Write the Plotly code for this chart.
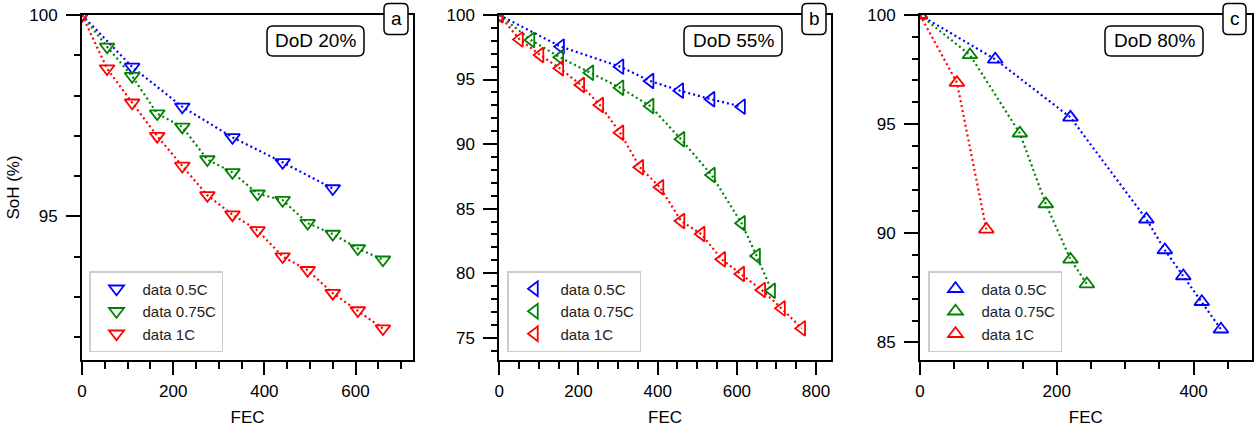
import plotly.graph_objects as go

# ---------------- data ----------------
rates = ["0.5C", "0.75C", "1C"]
colors = ["#0000ff", "#008000", "#ff0000"]

# Panel a : DoD 20 %
a_x_05 = [0, 110, 220, 330, 440, 550]
a_y_05 = [100, 98.71, 97.72, 96.96, 96.34, 95.69]
a_x_075 = [0, 55, 110, 165, 220, 275, 330, 385, 440, 495, 550, 605, 660]
a_y_075 = [100, 99.21, 98.48, 97.55, 97.22, 96.41, 96.09, 95.56, 95.40, 94.83, 94.56, 94.20, 93.92]
a_x_1 = [0, 55, 110, 165, 220, 275, 330, 385, 440, 495, 550, 605, 660]
a_y_1 = [100, 98.67, 97.82, 96.99, 96.25, 95.52, 95.04, 94.65, 94.00, 93.66, 93.09, 92.66, 92.21]

# Panel b : DoD 55 %
b_x_05 = [0, 155, 305, 381, 456, 535, 612]
b_y_05 = [100, 97.55, 96.00, 94.89, 94.14, 93.47, 92.90]
b_x_075 = [0, 80, 153, 229, 305, 381, 459, 536, 612, 650, 688]
b_y_075 = [100, 98.06, 96.72, 95.53, 94.37, 92.95, 90.37, 87.60, 83.86, 81.33, 78.64]
b_x_1 = [0, 51, 103, 153, 206, 254, 305, 355, 406, 459, 510, 562, 610, 663, 713, 764]
b_y_1 = [100, 98.11, 96.90, 95.87, 94.58, 93.03, 90.88, 88.20, 86.65, 84.04, 83.03, 81.07, 79.93, 78.69, 77.27, 75.72]

# Panel c : DoD 80 %
c_x_05 = [0, 110, 220, 331, 358, 385, 412, 440]
c_y_05 = [100, 97.97, 95.31, 90.64, 89.23, 88.04, 86.86, 85.60]
c_x_075 = [0, 73, 146, 184, 220, 244]
c_y_075 = [100, 98.17, 94.58, 91.34, 88.80, 87.67]
c_x_1 = [0, 54, 97]
c_y_1 = [100, 96.90, 90.18]

panel_titles = ["DoD 20%", "DoD 55%", "DoD 80%"]
panel_letters = ["a", "b", "c"]
x_ticks = [[0, 200, 400, 600], [0, 200, 400, 600, 800], [0, 200, 400]]
y_ticks = [[95, 100], [75, 80, 85, 90, 95, 100], [85, 90, 95, 100]]
x_ranges = [[0, 726], [0, 837], [0, 485]]
y_ranges = [[91.43, 100], [73.27, 100], [84.19, 100]]
symbols = ["triangle-down-open", "triangle-left-open", "triangle-up-open"]

panels = [
    [(a_x_05, a_y_05), (a_x_075, a_y_075), (a_x_1, a_y_1)],
    [(b_x_05, b_y_05), (b_x_075, b_y_075), (b_x_1, b_y_1)],
    [(c_x_05, c_y_05), (c_x_075, c_y_075), (c_x_1, c_y_1)],
]

# ---------------- layout geometry (pixels) ----------------
W, H = 1257, 434
FONT = "Liberation Sans, Arial, Helvetica, sans-serif"
x_dom_px = [(82, 413), (499.3, 830.7), (920, 1251.7)]
y_top_px, y_bot_px = 15, 360
legend_left_px = [89, 507, 928]
legend_bottom_px = 352
dod_box_px = [(267, 364), (684, 782), (1105, 1203)]
dod_box_y = (26, 56)
let_box_px = [(384, 408), (802, 826), (1223, 1246)]
let_box_y = (3.5, 34.5)


def px_x(v):
    return v / W


def px_y(v):
    return 1 - v / H


def rounded_path(x0, y0, x1, y1, r):
    pts = [
        ("M", [(x0 + r, y0)]),
        ("L", [(x1 - r, y0)]),
        ("Q", [(x1, y0), (x1, y0 + r)]),
        ("L", [(x1, y1 - r)]),
        ("Q", [(x1, y1), (x1 - r, y1)]),
        ("L", [(x0 + r, y1)]),
        ("Q", [(x0, y1), (x0, y1 - r)]),
        ("L", [(x0, y0 + r)]),
        ("Q", [(x0, y0), (x0 + r, y0)]),
    ]
    s = ""
    for cmd, ps in pts:
        s += cmd + " " + " ".join(f"{px_x(a):.6f},{px_y(b):.6f}" for a, b in ps) + " "
    return s + "Z"


fig = go.Figure()

for p, series in enumerate(panels):
    xa = "x" if p == 0 else f"x{p+1}"
    ya = "y" if p == 0 else f"y{p+1}"
    leg = "legend" if p == 0 else f"legend{p+1}"
    for (xs, ys), rate, col in zip(series, rates, colors):
        fig.add_trace(go.Scatter(
            x=xs, y=ys, mode="lines", xaxis=xa, yaxis=ya,
            line=dict(color=col, width=2.2, dash="2px,3px"),
            showlegend=False, hoverinfo="skip"))
        fig.add_trace(go.Scatter(
            x=xs, y=ys, mode="markers", xaxis=xa, yaxis=ya,
            name="data " + rate, legend=leg,
            marker=dict(symbol=symbols[p], size=13, color=col,
                        line=dict(color=col, width=1.8)),
            cliponaxis=True))

layout = dict(
    width=W, height=H,
    margin=dict(l=0, r=0, t=0, b=0),
    paper_bgcolor="white", plot_bgcolor="white",
    font=dict(family=FONT, color="black"),
    showlegend=True,
)

for p in range(3):
    sx = "" if p == 0 else str(p + 1)
    x0, x1 = x_dom_px[p]
    layout["xaxis" + sx] = dict(
        domain=[px_x(x0), px_x(x1)], anchor="y" + sx, range=x_ranges[p],
        tickvals=x_ticks[p], showline=True, linecolor="black", linewidth=2,
        mirror=True, ticks="outside", ticklen=13, tickwidth=2, tickcolor="black",
        showgrid=False, zeroline=False, automargin=False, ticklabelstandoff=2,
        tickfont=dict(size=17, family=FONT, color="black"),
        minor=dict(ticks="outside", ticklen=6.5, tickwidth=2, tickcolor="black",
                   dtick=50, showgrid=False),
        title=dict(text="FEC", font=dict(size=17, family=FONT, color="black"), standoff=11),
    )
    layout["yaxis" + sx] = dict(
        domain=[px_y(y_bot_px), px_y(y_top_px)], anchor="x" + sx, range=y_ranges[p],
        tickvals=y_ticks[p], showline=True, linecolor="black", linewidth=2,
        mirror=True, ticks="outside", ticklen=14, tickwidth=2, tickcolor="black",
        showgrid=False, zeroline=False, automargin=False, ticklabelstandoff=5,
        tickfont=dict(size=17, family=FONT, color="black"),
        minor=dict(ticks="outside", ticklen=6.5, tickwidth=2, tickcolor="black",
                   dtick=1, showgrid=False),
    )
    if p == 0:
        layout["yaxis"]["title"] = dict(text="SoH (%)", font=dict(size=17, family=FONT, color="black"), standoff=5)
    leg = "legend" if p == 0 else f"legend{p+1}"
    layout[leg] = dict(
        x=px_x(legend_left_px[p]), y=px_y(legend_bottom_px), xanchor="left", yanchor="bottom",
        bgcolor="rgba(255,255,255,0.85)", bordercolor="#cccccc", borderwidth=1.5,
        font=dict(size=15, family=FONT, color="#222222"), tracegroupgap=0,
        itemwidth=42,
    )

shapes = []
annotations = []
for p in range(3):
    bx0, bx1 = dod_box_px[p]
    shapes.append(dict(type="path", xref="paper", yref="paper", layer="above",
                       path=rounded_path(bx0, dod_box_y[0], bx1, dod_box_y[1], 6),
                       line=dict(color="black", width=1.5), fillcolor="white"))
    annotations.append(dict(xref="paper", yref="paper", x=px_x((bx0 + bx1) / 2),
                            y=px_y((dod_box_y[0] + dod_box_y[1]) / 2),
                            text=panel_titles[p], showarrow=False, xanchor="center", yanchor="middle",
                            font=dict(size=19, family=FONT, color="black")))
    lx0, lx1 = let_box_px[p]
    shapes.append(dict(type="path", xref="paper", yref="paper", layer="above",
                       path=rounded_path(lx0, let_box_y[0], lx1, let_box_y[1], 5),
                       line=dict(color="black", width=1.5), fillcolor="white"))
    annotations.append(dict(xref="paper", yref="paper", x=px_x((lx0 + lx1) / 2),
                            y=px_y((let_box_y[0] + let_box_y[1]) / 2),
                            text=panel_letters[p], showarrow=False, xanchor="center", yanchor="middle",
                            font=dict(size=19, family=FONT, color="black")))

layout["shapes"] = shapes
layout["annotations"] = annotations
fig.update_layout(**layout)

fig.write_html("out.html", config={"displayModeBar": False},
               post_script="document.body.style.margin='0';document.body.style.overflow='hidden';")
